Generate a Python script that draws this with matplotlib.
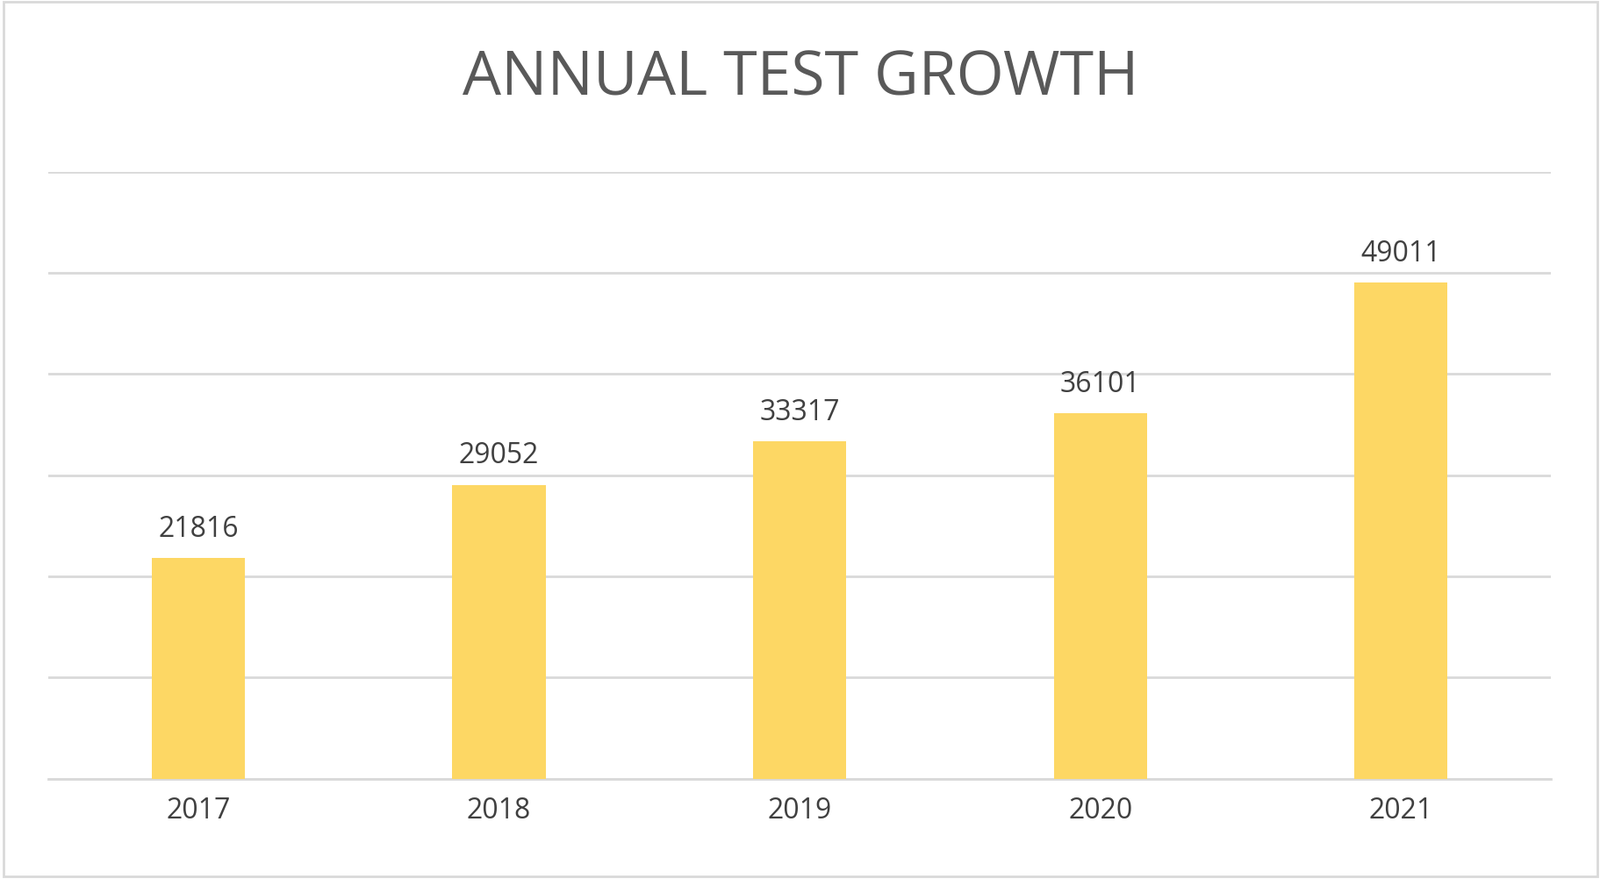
import matplotlib.pyplot as plt
from matplotlib.patches import Rectangle

years = ['2017', '2018', '2019', '2020', '2021']
tests = [21816, 29052, 33317, 36101, 49011]

plt.rcParams['font.family'] = 'Open Sans'

fig = plt.figure(figsize=(18.24, 10.03), dpi=100)
ax = fig.add_axes([0.030, 0.114, 0.939, 0.690])

ax.bar(range(len(years)), tests, width=0.31, color='#FDD764', zorder=3)
for i, v in enumerate(tests):
    ax.text(i, v + 1500, str(v), ha='center', va='bottom', fontsize=23, color='#404040')

ax.set_ylim(0, 60000)
ax.set_xlim(-0.5, len(years) - 0.5)
ax.set_yticks(range(0, 60001, 10000))
ax.yaxis.grid(True, color='#D9D9D9', linewidth=2, zorder=0)
ax.set_yticklabels([])
ax.tick_params(axis='y', length=0)
ax.tick_params(axis='x', length=0, pad=14, labelsize=23, labelcolor='#404040')
ax.set_xticks(range(len(years)))
ax.set_xticklabels(years)
for s in ['top', 'right', 'left']:
    ax.spines[s].set_visible(False)
ax.spines['bottom'].set_color('#D9D9D9')
ax.spines['bottom'].set_linewidth(2)

fig.text(0.5, 0.91, 'ANNUAL TEST GROWTH', ha='center', va='center', fontsize=50, color='#595959')
fig.patches.append(Rectangle((0.002, 0.003), 0.996, 0.994, transform=fig.transFigure,
                             fill=False, edgecolor='#D9D9D9', linewidth=2))

fig.savefig('out.png')
